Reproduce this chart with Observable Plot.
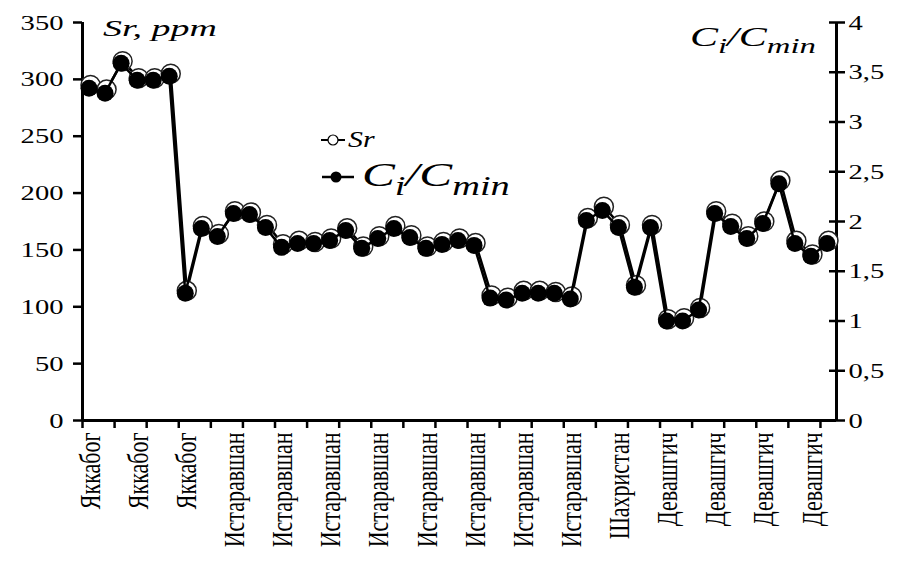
<!DOCTYPE html>
<html><head><meta charset="utf-8">
<script src="https://cdn.jsdelivr.net/npm/d3@7"></script>
<script src="https://cdn.jsdelivr.net/npm/@observablehq/plot@0.6"></script>
<style>body{margin:0;background:#fff} svg{display:block}</style>
</head><body><div id="chart"></div>
<script>
// x-axis labels (every 3rd sample)
const siteLabels = ["Яккабог","Яккабог","Яккабог",
  "Истаравшан","Истаравшан","Истаравшан","Истаравшан","Истаравшан","Истаравшан","Истаравшан","Истаравшан",
  "Шахристан","Девашгич","Девашгич","Девашгич","Девашгич"];
// Sr, ppm (left axis)
const srValues = [295,291,316,301,301,305,114,171,164,184,183,172,155,158,157,160,169,153,162,171,163,153,157,160,156,
  110,108,114,114,113,109,178,188,172,119,172,89,90,99,184,173,162,175,211,158,146,158];
// Ci/Cmin (right axis)
const ciValues = [3.34,3.29,3.59,3.42,3.42,3.46,1.28,1.93,1.85,2.08,2.07,1.94,1.74,1.78,1.78,1.81,1.91,1.73,1.83,1.93,1.84,1.73,1.77,1.81,1.76,
  1.23,1.21,1.28,1.28,1.28,1.22,2.01,2.11,1.94,1.34,1.94,1.00,1.00,1.11,2.08,1.95,1.83,1.98,2.38,1.78,1.65,1.78];
const leftTicks = [0,50,100,150,200,250,300,350];
const rightTicks = [0,0.5,1,1.5,2,2.5,3,3.5,4];

const k = 350 / 4; // right axis -> left axis
const data = srValues.map((v, i) => ({i, sr: v, ci: ciValues[i]}));
const n = data.length;
const boundaryTicks = d3.range(-0.5, n - 1, 2);
const labelTicks = siteLabels.map((_, j) => j * 3);
const comma = v => String(v).replace(".", ",");
const font = "Liberation Serif";

const plot = Plot.plot({
  width: 900, height: 563,
  marginTop: 22, marginRight: 64, marginBottom: 143, marginLeft: 82,
  style: {fontFamily: font, fontSize: "22px", color: "black", background: "white"},
  x: {domain: [-0.5, n - 0.5]},
  y: {domain: [0, 350]},
  marks: [
    Plot.ruleX([-0.5, n - 0.5], {y1: 0, y2: 350, strokeWidth: 3}),
    Plot.ruleY([0], {strokeWidth: 3}),
    Plot.axisY(leftTicks, {anchor: "left", tickSize: 9, tickPadding: 10, strokeWidth: 2.5, fill: "black", label: null}),
    Plot.axisY(rightTicks.map(v => v * k), {anchor: "right", tickSize: 16, dx: -8, strokeWidth: 2.5, tickFormat: () => "", label: null}),
    Plot.axisY(rightTicks.map(v => v * k), {anchor: "right", tickSize: 0, tickPadding: 12, fill: "black", tickFormat: v => comma(+(v / k).toFixed(1)), label: null}),
    Plot.axisX(boundaryTicks, {tickSize: 8, strokeWidth: 2.5, tickFormat: () => "", label: null}),
    Plot.axisX(labelTicks, {tickSize: 0, tickPadding: 12, tickRotate: -90, fill: "black", tickFormat: v => siteLabels[v / 3], label: null}),
    Plot.line(data, {x: "i", y: "sr", stroke: "black", strokeWidth: 2.5}),
    Plot.dot(data, {x: "i", y: "sr", r: 9.5, fill: "white", stroke: "#222", strokeWidth: 1.5}),
    Plot.line(data, {x: "i", y: d => d.ci * k, stroke: "black", strokeWidth: 2.5, dx: -1.5}),
    Plot.dot(data, {x: "i", y: d => d.ci * k, r: 8.5, fill: "black", dx: -1.5})
  ]
});

// the source figure's lettering is horizontally widened; reproduce that with a scale transform
function stretch(el, sx, sy) {
  const t = el.getAttribute("transform") || "";
  el.setAttribute("transform", `${t} scale(${sx},${sy})`);
}
const svg = d3.select(plot);
svg.selectAll('g[aria-label="y-axis tick label"] text').each(function() { stretch(this, 1.3, 1); });
svg.selectAll('g[aria-label="x-axis tick label"] text').each(function() { stretch(this, 1, 1.3); });

// free-standing texts: placed with a translate so the stretch keeps their anchor
function label(g, x, y, size, sx) {
  return g.append("text").attr("transform", `translate(${x},${y}) scale(${sx},1)`)
    .attr("text-anchor", "start").attr("font-family", font).attr("font-style", "italic").attr("font-size", size);
}
label(svg, 103, 36, 23, 1.65).text("Sr, ppm");
function ciText(g, x, y, size, sx) {
  const t = label(g, x, y, size, sx);
  t.append("tspan").text("C");
  t.append("tspan").attr("dy", size * 0.25).attr("font-size", size * 0.78).text("i");
  t.append("tspan").attr("dy", -size * 0.25).text("/C");
  t.append("tspan").attr("dy", size * 0.25).attr("font-size", size * 0.78).text("min");
}
ciText(svg, 690, 46, 28, 1.5);
// legend
const lg = svg.append("g");
lg.append("line").attr("x1", 321).attr("x2", 345).attr("y1", 140).attr("y2", 140).attr("stroke", "black").attr("stroke-width", 2);
lg.append("circle").attr("cx", 333).attr("cy", 140).attr("r", 5).attr("fill", "white").attr("stroke", "black").attr("stroke-width", 1.2);
label(lg, 348, 147, 23, 1.3).text("Sr");
lg.append("line").attr("x1", 322).attr("x2", 354).attr("y1", 177).attr("y2", 177).attr("stroke", "black").attr("stroke-width", 2.5);
lg.append("circle").attr("cx", 336).attr("cy", 177).attr("r", 5.5).attr("fill", "black");
ciText(lg, 362, 186, 34, 1.45);

document.getElementById("chart").appendChild(plot);
</script>
</body></html>
